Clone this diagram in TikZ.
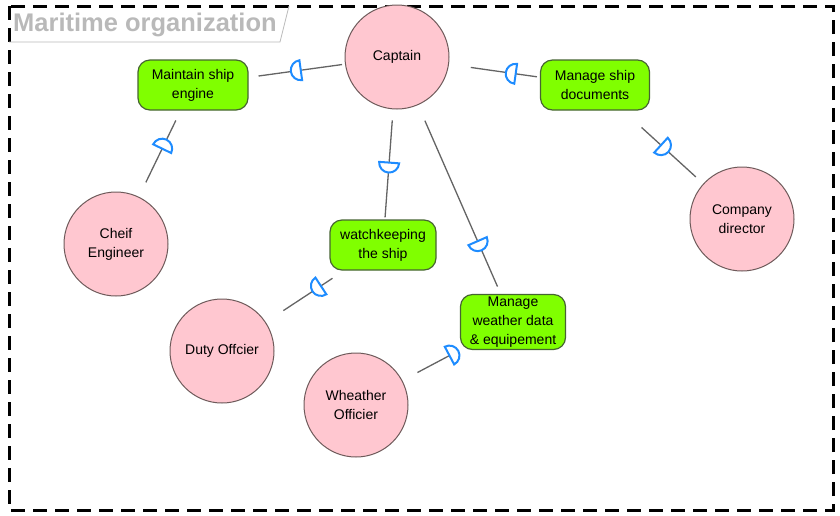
\documentclass[tikz,border=0pt]{standalone}
\usepackage{fontspec}
\setmainfont{Liberation Sans}
\usetikzlibrary{shapes.geometric}
\definecolor{pinkfill}{RGB}{255,199,208}
\definecolor{circborder}{RGB}{110,90,90}
\definecolor{goalfill}{RGB}{128,255,0}
\definecolor{goalborder}{RGB}{70,100,50}
\definecolor{dblue}{RGB}{30,140,255}
\definecolor{linkgray}{RGB}{100,100,100}
\definecolor{titlegray}{RGB}{185,185,185}
\begin{document}
\begin{tikzpicture}[x=1pt,y=-1pt,
  actor/.style={circle, draw=circborder, fill=pinkfill, line width=1pt, minimum size=104pt, inner sep=0pt, align=center, font=\fontsize{14}{19}\selectfont},
  goal/.style={rectangle, rounded corners=12pt, draw=goalborder, fill=goalfill, line width=1.2pt, inner sep=0pt, align=center, font=\fontsize{14}{19}\selectfont},
  link/.style={draw=linkgray, line width=1.3pt},
  dsym/.style={semicircle, draw=dblue, fill=white, line width=2pt, inner sep=0pt, minimum width=16pt, minimum height=10pt, sloped, allow upside down},
  dstart/.style={dsym, rotate=90},
  dend/.style={dsym, rotate=-90},
]
\useasboundingbox (0,0) rectangle (840,515);
\draw[line width=3pt, dash pattern=on 14pt off 8pt] (9,6) rectangle (833,510);
\node[anchor=west, font=\fontsize{25.5}{25}\selectfont\bfseries, text=titlegray, inner sep=0pt] (title) at (13,25) {Maritime organization};
\draw[titlegray, line width=0.8pt] (9,42) -- (280,42) -- (289,6);

\node[actor] (cap) at (397,57) {Captain};
\node[actor] (ce) at (116,244) {Cheif\\Engineer};
\node[actor] (cd) at (742,219) {Company\\director};
\node[actor] (do) at (222,351) {Duty Offcier};
\node[actor] (wo) at (356,405) {Wheather\\Officier};

\node[goal, minimum width=110pt, minimum height=50pt] (mse) at (193,85) {Maintain ship\\engine};
\node[goal, minimum width=109pt, minimum height=50pt] (msd) at (595,85) {Manage ship\\documents};
\node[goal, minimum width=106pt, minimum height=50pt] (wk) at (383,245) {watchkeeping\\the ship};
\node[goal, minimum width=105pt, minimum height=55pt] (wd) at (513,322) {Manage\\weather data\\\& equipement};

\draw[link, shorten <=3pt, shorten >=10pt] (cap) -- node[dend, pos=.5]{} (mse);
\draw[link, shorten <=22pt, shorten >=3pt] (cap) -- node[dstart, pos=.69]{} (msd);
\draw[link, shorten <=11pt, shorten >=16pt] (mse) -- node[dstart, pos=.40]{} (ce);
\draw[link, shorten <=11pt, shorten >=2pt] (cap) -- node[dend, pos=.52]{} (wk);
\draw[link, shorten <=17pt, shorten >=8pt] (cap) -- node[dend, pos=.74]{} (wd);
\draw[link, shorten <=25pt, shorten >=10pt] (msd) -- node[dend, pos=.51]{} (cd);
\draw[link, shorten <=14pt, shorten >=21pt] (wk) -- node[dend, pos=.34]{} (do);
\draw[link, shorten <=5pt, shorten >=17pt] (wd) -- node[dstart, pos=.12]{} (wo);
\end{tikzpicture}
\end{document}
